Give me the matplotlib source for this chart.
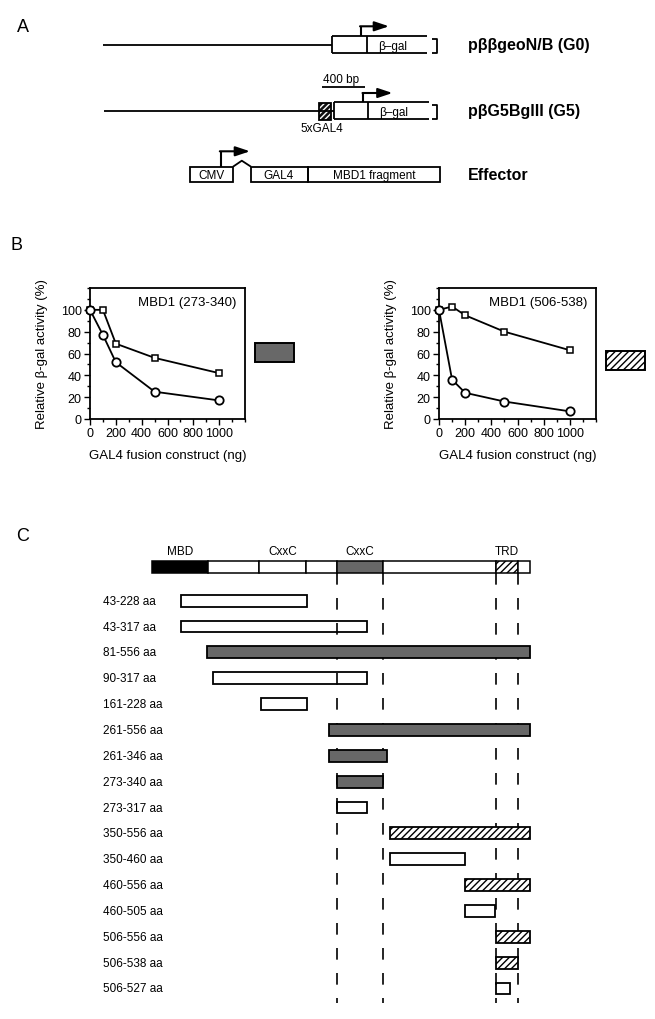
import numpy as np
import matplotlib.pyplot as plt
from matplotlib.patches import Rectangle
from matplotlib.ticker import MultipleLocator, FixedLocator
from matplotlib import font_manager

plt.rcParams["font.family"] = ["Liberation Sans", "DejaVu Sans"]
plt.rcParams["hatch.linewidth"] = 1.0

names = {f.name for f in font_manager.fontManager.ttflist}
TICK_FONT = "Liberation Sans Narrow" if "Liberation Sans Narrow" in names else "Liberation Sans"
print(TICK_FONT)

# ============================================================
# Data : panel B (reporter assays)
# ============================================================
dose_ng = [0, 100, 200, 500, 1000]
sq_273_340 = [100, 100, 69, 56, 42]
ci_273_340 = [100, 77, 52, 25, 17]
sq_506_538 = [100, 103, 95, 80, 63]
ci_506_538 = [100, 36, 24, 16, 7]
b_titles = ["MBD1 (273-340)", "MBD1 (506-538)"]
b_swatch = ["grey", "hatch"]

# ============================================================
# Data : panel C (MBD1 deletion map, amino acids)
# ============================================================
domain_edges = [1, 83, 158, 227, 273, 340, 506, 538, 556]
domain_fill = ["black", "white", "white", "white", "grey", "white", "hatch", "white"]
domain_names = ["MBD", "CxxC", "CxxC", "TRD"]
domain_centers = [42, 192, 306, 522]
dash_at = [273, 340, 506, 538]

frag_labels = ["43-228 aa", "43-317 aa", "81-556 aa", "90-317 aa", "161-228 aa",
               "261-556 aa", "261-346 aa", "273-340 aa", "273-317 aa", "350-556 aa",
               "350-460 aa", "460-556 aa", "460-505 aa", "506-556 aa", "506-538 aa",
               "506-527 aa"]
frag_start = [43, 43, 81, 90, 161, 261, 261, 273, 273, 350, 350, 460, 460, 506, 506, 506]
frag_end = [228, 317, 556, 317, 228, 556, 346, 340, 317, 556, 460, 556, 505, 556, 538, 527]
frag_fill = ["none", "none", "grey", "none", "none", "grey", "grey", "grey", "none",
             "hatch", "none", "hatch", "none", "hatch", "hatch", "none"]

GREY = "#686868"
W, H = 655, 1020


def fill_kw(kind):
    if kind == "hatch":
        return dict(facecolor="white", hatch="/////")
    if kind == "grey":
        return dict(facecolor=GREY)
    return dict(facecolor=kind)


fig = plt.figure(figsize=(W / 100, H / 100), dpi=100)

# pixel overlay for the schematic of panel A
ax0 = fig.add_axes([0, 0, 1, 1])
ax0.set_xlim(0, W)
ax0.set_ylim(H, 0)
ax0.axis("off")

LW = 1.3


def line(xs, ys, lw=LW):
    ax0.plot(xs, ys, color="black", lw=lw, solid_capstyle="butt")


def box(x0, x1, y0, y1, **kw):
    kw.setdefault("facecolor", "none")
    ax0.add_patch(Rectangle((x0, y0), x1 - x0, y1 - y0, edgecolor="black", lw=LW, **kw))


def promoter(x, ybase, ytop, xtip):
    line([x, x], [ybase, ytop], lw=1.5)
    ax0.annotate("", xy=(xtip, ytop), xytext=(x - 0.7, ytop),
                 arrowprops=dict(arrowstyle="-|>,head_length=0.6,head_width=0.2",
                                 color="black", lw=1.5, mutation_scale=14.4,
                                 shrinkA=0, shrinkB=0))


def reporter(y, hh, x_line0, x_line1, x_box0, x_div, x_box1, x_brk):
    line([x_line0, x_line1], [y, y])
    line([x_box0, x_box0], [y - hh, y + hh])
    line([x_box0, x_box1], [y - hh, y - hh])
    line([x_box0, x_box1], [y + hh, y + hh])
    line([x_div, x_div], [y - hh, y + hh])
    line([x_brk - 5, x_brk, x_brk, x_brk - 5], [y - hh + 3, y - hh + 3, y + hh, y + hh])
    ax0.text((x_div + x_box1) / 2 - 5, y + 1, "β–gal", ha="center", va="center", fontsize=8.5)


# ---- panel A ----
ax0.text(23, 27, "A", fontsize=13, ha="center", va="center")
reporter(45.8, 8.5, 102.5, 332, 332, 367.4, 427, 437)
promoter(360.7, 37.3, 27.3, 389)
ax0.text(468, 45.8, "pββgeoN/B (G0)", fontsize=11.5, fontweight="bold", va="center")

ax0.text(341, 80, "400 bp", fontsize=8.5, ha="center", va="center")
line([322, 365], [87.7, 87.7])
reporter(111.6, 8.4, 103.8, 333.5, 333.5, 368.2, 429, 437)
ax0.add_patch(Rectangle((318.8, 104), 11.7, 16.7, facecolor="#111111", edgecolor="white",
                        hatch="//////", lw=0))
box(318.8, 330.5, 104, 120.7)
promoter(363.2, 103.3, 94, 392.5)
ax0.text(322, 128.5, "5xGAL4", fontsize=8.5, ha="center", va="center")
ax0.text(468, 111.6, "pβG5BglII (G5)", fontsize=11.5, fontweight="bold", va="center")

box(190.4, 233, 167.7, 183.3)
line([233, 241.8, 251], [167.7, 161.7, 167.7])
box(251, 307.5, 167.7, 183.3)
box(307.5, 440, 167.7, 183.3)
promoter(220.5, 167.7, 152.3, 250)
ax0.text(211.7, 176, "CMV", fontsize=8.5, ha="center", va="center")
ax0.text(279, 176, "GAL4", fontsize=8.5, ha="center", va="center")
ax0.text(374, 176, "MBD1 fragment", fontsize=8.5, ha="center", va="center")
ax0.text(468, 175.5, "Effector", fontsize=11.5, fontweight="bold", va="center")

# ---- panel B ----
ax0.text(17, 245, "B", fontsize=13, ha="center", va="center")
b_axes_px = [(90, 245), (439, 596)]
b_squares = [sq_273_340, sq_506_538]
b_circles = [ci_273_340, ci_506_538]
swatch_px = [(255, 344), (606, 352)]

for i in range(2):
    x0, x1 = b_axes_px[i]
    ax = fig.add_axes([x0 / W, 1 - 420 / H, (x1 - x0) / W, 131 / H])
    ax.plot(dose_ng, b_squares[i], "-s", color="black", lw=1.3, ms=4.2,
            mfc="white", mew=1.1, clip_on=False, zorder=3)
    ax.plot(dose_ng, b_circles[i], "-o", color="black", lw=1.3, ms=6,
            mfc="white", mew=1.3, clip_on=False, zorder=4)
    ax.set_xlim(0, 1200)
    ax.set_ylim(0, 120)
    ax.xaxis.set_major_locator(FixedLocator([0, 200, 400, 600, 800, 1000]))
    ax.xaxis.set_minor_locator(MultipleLocator(100))
    ax.yaxis.set_major_locator(FixedLocator([0, 20, 40, 60, 80, 100]))
    ax.yaxis.set_minor_locator(MultipleLocator(10))
    ax.tick_params(which="major", direction="out", length=4, width=1, labelsize=9, pad=2)
    ax.tick_params(which="minor", direction="out", length=2, width=1)
    for lab in ax.get_xticklabels() + ax.get_yticklabels():
        lab.set_family([TICK_FONT, "DejaVu Sans"])
    for sp in ax.spines.values():
        sp.set_linewidth(1.3)
    ax.text(0.945, 0.89, b_titles[i], transform=ax.transAxes, ha="right", va="center",
            fontsize=9.5)
    ax.set_xlabel("GAL4 fusion construct (ng)", fontsize=9.5, labelpad=7)
    ax.set_ylabel("Relative β-gal activity (%)", fontsize=9.5, labelpad=9)
    sx, sy = swatch_px[i]
    ax0.add_patch(Rectangle((sx, sy), 39, 19, edgecolor="black", lw=1.4,
                            **fill_kw(b_swatch[i])))

# ---- panel C ----
ax0.text(23, 537, "C", fontsize=13, ha="center", va="center")

PX0, PX_PER_AA = 151.7, 0.68
ROW0_PX, ROW_PX = 601.7, 25.85


def px_to_aa(px):
    return (px - PX0) / PX_PER_AA


def px_to_row(py):
    return (py - ROW0_PX) / ROW_PX


axC = fig.add_axes([0, 0, 1, (H - 530) / H])
axC.patch.set_alpha(0)
axC.set_xlim(px_to_aa(0), px_to_aa(W))
axC.set_ylim(px_to_row(H), px_to_row(530))
axC.axis("off")

protein_row = px_to_row(568)
for s, e, kind in zip(domain_edges[:-1], domain_edges[1:], domain_fill):
    axC.barh(protein_row, e - s, left=s, height=0.46, edgecolor="black", lw=1.1,
             zorder=3, **fill_kw(kind))
for name, c in zip(domain_names, domain_centers):
    axC.text(c, px_to_row(552), name, ha="center", va="center", fontsize=8.5)

axC.vlines(dash_at, px_to_row(574), px_to_row(1004), colors="black", lw=1.2,
           linestyles=(0, (7, 8)), zorder=1)

rows = np.arange(len(frag_labels))
for r, s, e, kind in zip(rows, frag_start, frag_end, frag_fill):
    axC.barh(r, e - s, left=s, height=0.46, edgecolor="black", lw=1.3,
             zorder=2, **fill_kw(kind))
for r, lab in zip(rows, frag_labels):
    axC.text(px_to_aa(103), r, lab, ha="left", va="center", fontsize=8.5)

plt.savefig("out.png", dpi=100)
